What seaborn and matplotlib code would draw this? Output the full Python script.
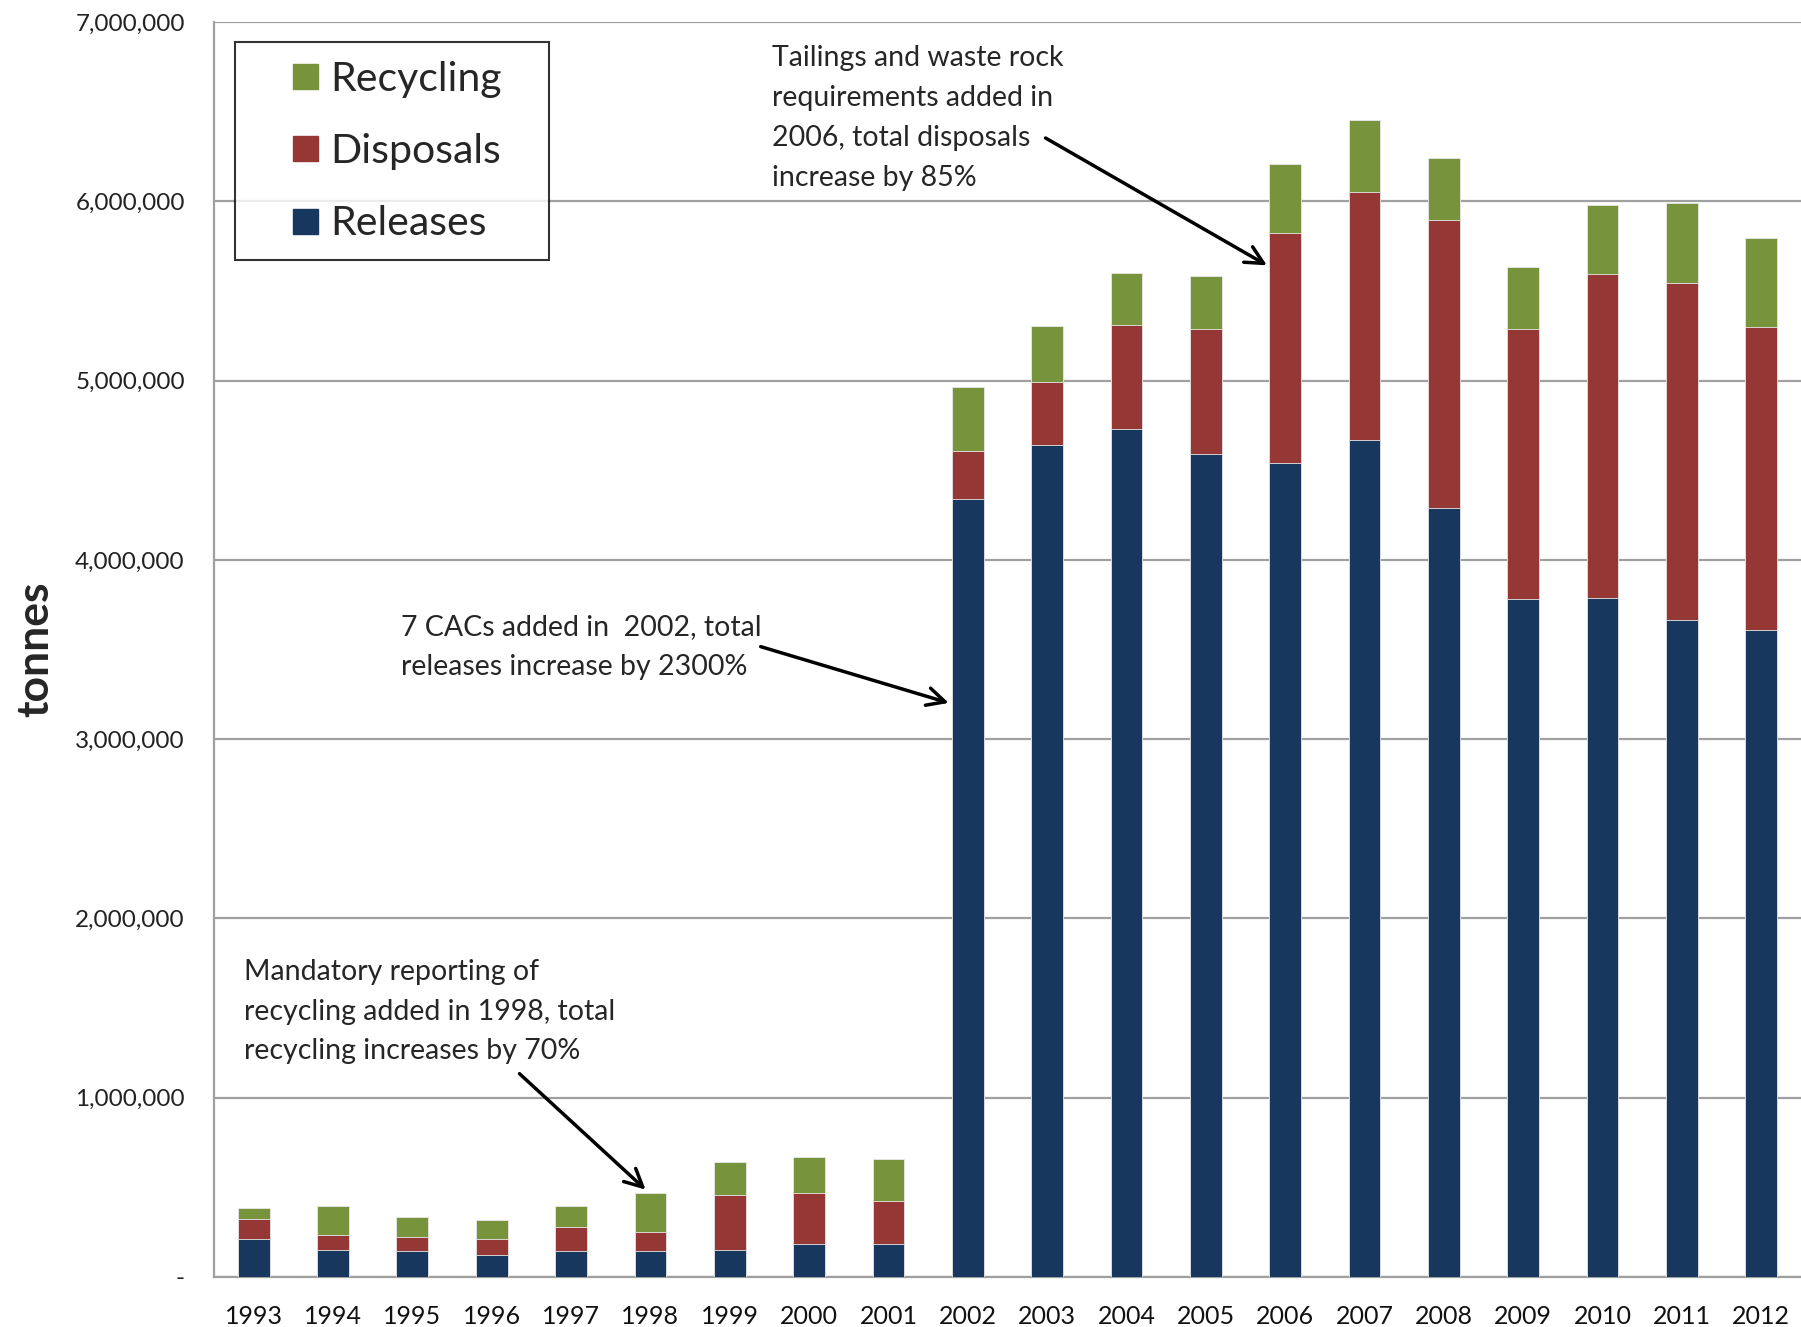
import numpy as np
import pandas as pd
import matplotlib
matplotlib.use("Agg")
import matplotlib.pyplot as plt
import seaborn as sns
from matplotlib.lines import Line2D
from matplotlib.ticker import FuncFormatter, FixedLocator

# Data (tonnes)
years = [str(y) for y in range(1993, 2013)]
releases = [214e3, 153e3, 143e3, 123e3, 143e3, 143e3, 153e3, 182e3, 182e3,
            4337e3, 4641e3, 4730e3, 4591e3, 4539e3, 4671e3, 4287e3, 3779e3,
            3789e3, 3667e3, 3608e3]
disposals = [112e3, 81e3, 80e3, 91e3, 133e3, 110e3, 304e3, 286e3, 244e3,
             271e3, 353e3, 578e3, 697e3, 1287e3, 1379e3, 1608e3, 1509e3,
             1805e3, 1877e3, 1692e3]
recycling = [61e3, 162e3, 114e3, 102e3, 120e3, 215e3, 183e3, 203e3, 234e3,
             354e3, 311e3, 294e3, 294e3, 383e3, 403e3, 346e3, 344e3,
             384e3, 444e3, 493e3]

C_REC = "#77933C"
C_DIS = "#953735"
C_REL = "#17375E"

df = pd.DataFrame({"year": years, "releases": releases,
                   "disposals": disposals, "recycling": recycling})
df["rel_dis"] = df["releases"] + df["disposals"]
df["total"] = df["rel_dis"] + df["recycling"]

sns.set_style("white")
plt.rcParams["font.family"] = ["Lato", "DejaVu Sans"]

fig = plt.figure(figsize=(18.01, 13.27), dpi=100)
ax = fig.add_axes([0.1188, 0.0377, 0.8812, 0.9457])

# stacked bars drawn as overlapping cumulative totals
sns.barplot(data=df, x="year", y="total", color=C_REC, width=0.4,
            saturation=1, ax=ax, zorder=3)
sns.barplot(data=df, x="year", y="rel_dis", color=C_DIS, width=0.4,
            saturation=1, ax=ax, zorder=3)
sns.barplot(data=df, x="year", y="releases", color=C_REL, width=0.4,
            saturation=1, ax=ax, zorder=3)
for p in ax.patches:
    p.set_edgecolor("#e8e8e8")
    p.set_linewidth(0.6)

ax.set_xlim(-0.5, 19.5)
ax.set_ylim(0, 7e6)
ax.set_yticks(np.arange(0, 7.5e6, 1e6))
ax.yaxis.set_major_formatter(FuncFormatter(lambda v, p: "-" if v == 0 else f"{v:,.0f}"))
ax.grid(axis="y", color="#a0a0a0", lw=1.6, zorder=0)
ax.set_axisbelow(True)

# Excel-style category ticks between bars
ax.xaxis.set_minor_locator(FixedLocator(np.arange(-0.5, 20, 1)))
ax.tick_params(axis="x", which="major", length=0, labelsize=18, pad=20, colors="#111111")
ax.tick_params(axis="x", which="minor", length=10, width=1.5, color="#a0a0a0")
ax.tick_params(axis="y", length=9, width=1.5, color="#a0a0a0", labelsize=17.5,
               pad=12, labelcolor="#222222")

for s in ["top", "right"]:
    ax.spines[s].set_visible(False)
for s in ["left", "bottom"]:
    ax.spines[s].set_color("#a0a0a0")
    ax.spines[s].set_linewidth(1.6)

ax.set_xlabel("")
ax.set_ylabel("tonnes", fontsize=32, fontweight="bold", labelpad=14)

handles = [Line2D([], [], marker="s", ls="", color=c, markersize=18)
           for c in [C_REC, C_DIS, C_REL]]
leg = ax.legend(handles, ["Recycling", "Disposals", "Releases"],
                loc="upper left", bbox_to_anchor=(0.0132, 0.5, 0.1976, 0.484),
                mode="expand", borderaxespad=0, fontsize=29.5, frameon=True,
                fancybox=False, edgecolor="black", labelspacing=0.86,
                handletextpad=-0.62, borderpad=0.45, handlelength=2.5)
leg.get_frame().set_linewidth(1.5)

arrow = dict(arrowstyle="->", lw=2.5, color="black", mutation_scale=32,
             shrinkA=0, shrinkB=0)
TXT = 20.5
LS = 1.66

ax.annotate("", xy=(12.77, 5.643e6), xytext=(9.98, 6.353e6), arrowprops=arrow)
ax.text(6.53, 6.87e6, "Tailings and waste rock\nrequirements added in\n2006, total disposals\nincrease by 85%",
        fontsize=TXT, ha="left", va="top", linespacing=LS)

ax.annotate("", xy=(8.76, 3.202e6), xytext=(6.39, 3.516e6), arrowprops=arrow)
ax.text(1.86, 3.698e6, "7 CACs added in  2002, total\nreleases increase by 2300%",
        fontsize=TXT, ha="left", va="top", linespacing=LS)

ax.annotate("", xy=(4.94, 0.487e6), xytext=(3.35, 1.134e6), arrowprops=arrow)
ax.text(-0.124, 1.775e6, "Mandatory reporting of\nrecycling added in 1998, total\nrecycling increases by 70%",
        fontsize=TXT, ha="left", va="top", linespacing=LS)

fig.savefig("out.png", dpi=100)
